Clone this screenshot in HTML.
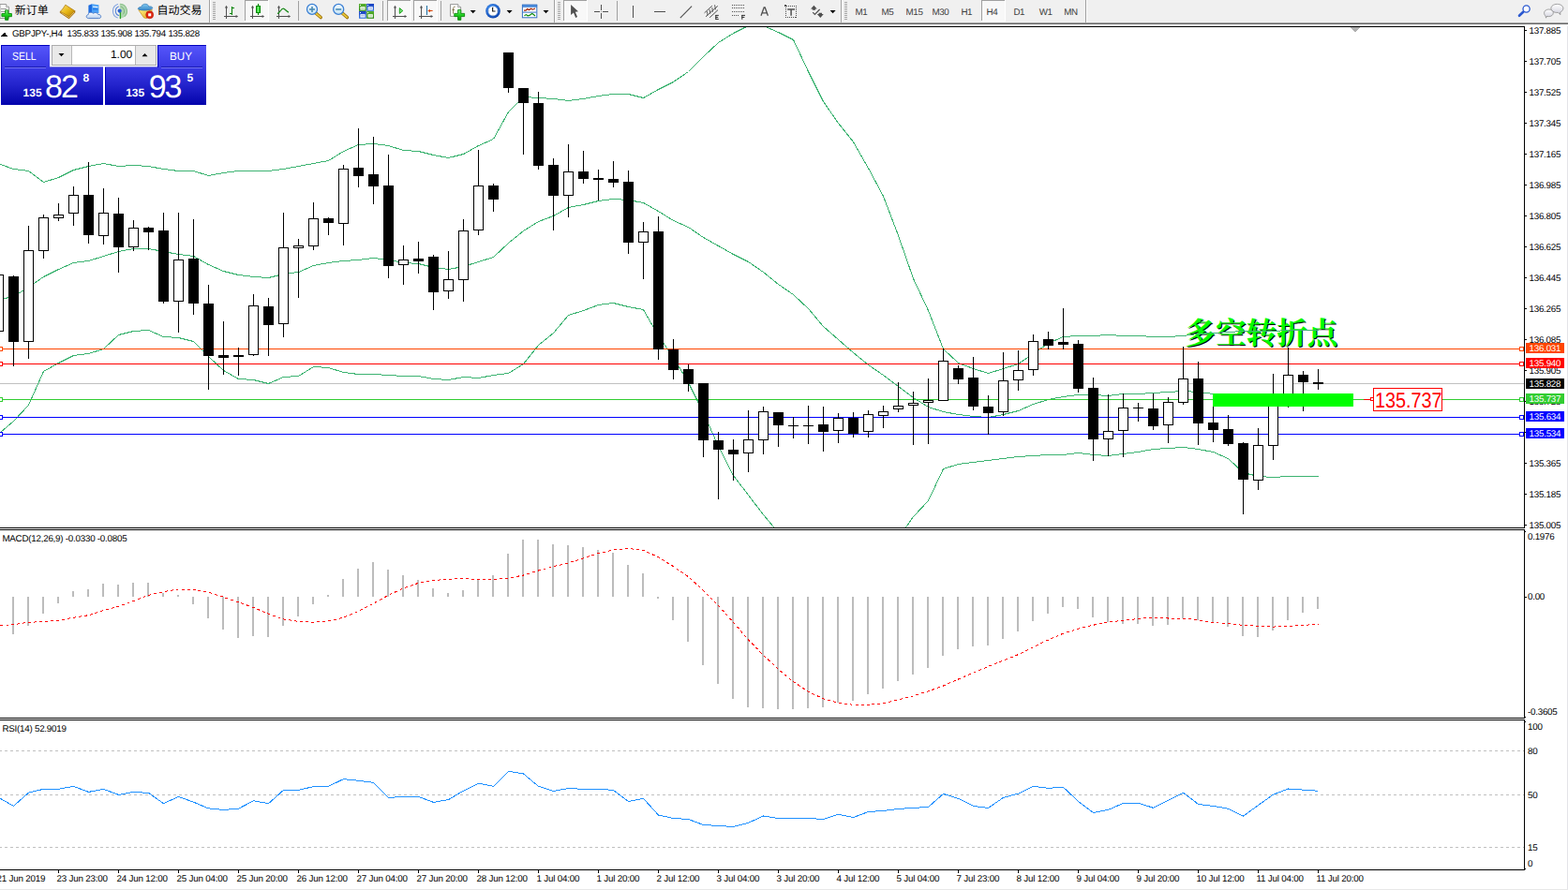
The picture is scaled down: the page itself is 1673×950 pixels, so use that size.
<!DOCTYPE html>
<html><head><meta charset="utf-8"><title>GBPJPY H4</title>
<style>
html,body{margin:0;padding:0;background:#fff}
body{width:1673px;height:950px;position:relative;overflow:hidden;font-family:"Liberation Sans", sans-serif;text-rendering:geometricPrecision}
.t{position:absolute;white-space:nowrap;font-family:"Liberation Sans", sans-serif}
svg{position:absolute;left:0;top:0}
.pb{position:absolute;left:1628px;width:41px;height:11px;color:#fff;font-size:9.8px;line-height:13px;letter-spacing:-0.25px;text-indent:3.6px;white-space:nowrap;overflow:hidden}
#tb{position:absolute;left:0;top:0;width:1673px;height:24px;background:#f0f0f0}
#redge{position:absolute;left:1672px;top:26px;width:1px;height:924px;background:#e4e4e8}
#bedge{position:absolute;left:0;top:949px;width:1673px;height:1px;background:#e8e8e8}
</style></head><body>
<div id="tb"></div><div id="redge"></div><div id="bedge"></div>
<svg width="1673" height="950" viewBox="0 0 1673 950" shape-rendering="crispEdges">
<rect x="0" y="28" width="1627" height="1" fill="#000"/>
<rect x="1626" y="28" width="1" height="536" fill="#000"/>
<rect x="0" y="563" width="1627" height="1" fill="#000"/>
<rect x="0" y="565" width="1627" height="1" fill="#000"/>
<rect x="1626" y="565" width="1" height="202" fill="#000"/>
<rect x="0" y="766" width="1627" height="1" fill="#000"/>
<rect x="0" y="768" width="1627" height="1" fill="#000"/>
<rect x="1626" y="768" width="1" height="161" fill="#000"/>
<rect x="0" y="928" width="1627" height="1" fill="#000"/>
<defs><clipPath id="cm"><rect x="0" y="29" width="1626" height="534"/></clipPath></defs>
<rect x="0" y="409" width="1626" height="1" fill="#c0c0c0"/>
<g shape-rendering="geometricPrecision"><text x="1265.3" y="367.66" font-size="32.62" font-weight="bold" fill="#000" font-family="&quot;Liberation Serif&quot;, &quot;Noto Serif CJK SC&quot;, serif">多空转折点</text><text x="1264.3" y="366.66" font-size="32.62" font-weight="bold" fill="#00ff00" font-family="&quot;Liberation Serif&quot;, &quot;Noto Serif CJK SC&quot;, serif">多空转折点</text></g>
<polyline points="0.5,175.5 14.5,180.5 30.5,182.5 46.5,194.5 62.5,189.5 78.5,181.5 94.5,177.5 110.5,174.5 126.5,177.5 142.5,176.5 158.5,177.5 174.5,180.5 190.5,182.5 206.5,182.5 222.5,187.5 238.5,184.5 254.5,182.5 270.5,182.5 286.5,182.5 302.5,180.5 318.5,177.5 334.5,174.5 350.5,171.5 366.5,161.5 382.5,154.5 398.5,153.5 414.5,155.5 430.5,160.5 446.5,161.5 462.5,165.5 478.5,168.5 494.5,164.5 510.5,155.5 526.5,148.5 542.5,119.5 558.5,103.5 574.5,104.5 590.5,105.5 606.5,107.5 622.5,105.5 638.5,102.5 654.5,100.5 670.5,100.5 686.5,104.5 702.5,95.5 718.5,87.5 734.5,76.5 750.5,60.5 766.5,45.5 782.5,35.5 798.5,27.5 814.5,27.5 830.5,34.5 846.5,42.5 862.5,76.5 878.5,108.5 894.5,131.5 910.5,151.5 926.5,179.5 942.5,209.5 958.5,251.5 974.5,297.5 990.5,331.5 1006.5,372.5 1022.5,387.5 1038.5,393.5 1054.5,398.5 1070.5,393.5 1086.5,388.5 1102.5,377.5 1118.5,366.5 1134.5,359.5 1150.5,358.5 1166.5,358.5 1182.5,357.5 1198.5,358.5 1214.5,358.5 1230.5,359.5 1246.5,359.5 1262.5,358.5 1278.5,356.5 1294.5,355.5 1310.5,354.5 1326.5,353.5 1342.5,353.5 1358.5,353.5 1374.5,352.5 1390.5,352.5 1406.5,352.5" fill="none" stroke="#3cb371" stroke-width="1" clip-path="url(#cm)"/>
<polyline points="0.5,319.5 14.5,316.5 30.5,306.5 46.5,295.5 62.5,287.5 78.5,280.5 94.5,278.5 110.5,273.5 126.5,268.5 142.5,265.5 158.5,265.5 174.5,268.5 190.5,271.5 206.5,273.5 222.5,282.5 238.5,289.5 254.5,293.5 270.5,295.5 286.5,296.5 302.5,292.5 318.5,290.5 334.5,283.5 350.5,280.5 366.5,278.5 382.5,277.5 398.5,275.5 414.5,277.5 430.5,280.5 446.5,281.5 462.5,285.5 478.5,287.5 494.5,284.5 510.5,279.5 526.5,274.5 542.5,259.5 558.5,246.5 574.5,236.5 590.5,230.5 606.5,221.5 622.5,218.5 638.5,214.5 654.5,212.5 670.5,213.5 686.5,216.5 702.5,225.5 718.5,235.5 734.5,242.5 750.5,253.5 766.5,262.5 782.5,271.5 798.5,279.5 814.5,290.5 830.5,303.5 846.5,314.5 862.5,329.5 878.5,348.5 894.5,362.5 910.5,376.5 926.5,389.5 942.5,400.5 958.5,412.5 974.5,424.5 990.5,434.5 1006.5,439.5 1022.5,442.5 1038.5,444.5 1054.5,445.5 1070.5,442.5 1086.5,438.5 1102.5,431.5 1118.5,426.5 1134.5,423.5 1150.5,421.5 1166.5,421.5 1182.5,422.5 1198.5,420.5 1214.5,420.5 1230.5,419.5 1246.5,418.5 1262.5,417.5 1278.5,418.5 1294.5,420.5 1310.5,423.5 1326.5,426.5 1342.5,428.5 1358.5,428.5 1374.5,427.5 1390.5,426.5 1406.5,425.5" fill="none" stroke="#3cb371" stroke-width="1" clip-path="url(#cm)"/>
<polyline points="0.5,461.5 14.5,449.5 30.5,432.5 46.5,396.5 62.5,387.5 78.5,379.5 94.5,377.5 110.5,372.5 126.5,357.5 142.5,353.5 158.5,352.5 174.5,359.5 190.5,360.5 206.5,364.5 222.5,380.5 238.5,395.5 254.5,404.5 270.5,405.5 286.5,409.5 302.5,402.5 318.5,401.5 334.5,391.5 350.5,392.5 366.5,397.5 382.5,399.5 398.5,399.5 414.5,400.5 430.5,401.5 446.5,401.5 462.5,404.5 478.5,405.5 494.5,402.5 510.5,403.5 526.5,400.5 542.5,398.5 558.5,388.5 574.5,368.5 590.5,355.5 606.5,336.5 622.5,331.5 638.5,325.5 654.5,323.5 670.5,327.5 686.5,330.5 702.5,358.5 718.5,381.5 734.5,408.5 750.5,440.5 766.5,476.5 782.5,507.5 798.5,528.5 814.5,549.5 830.5,568.5 846.5,580.5 862.5,580.5 878.5,580.5 894.5,580.5 910.5,580.5 926.5,580.5 942.5,580.5 958.5,574.5 974.5,551.5 990.5,534.5 1006.5,500.5 1022.5,495.5 1038.5,493.5 1054.5,491.5 1070.5,489.5 1086.5,487.5 1102.5,486.5 1118.5,485.5 1134.5,485.5 1150.5,483.5 1166.5,485.5 1182.5,486.5 1198.5,484.5 1214.5,482.5 1230.5,479.5 1246.5,478.5 1262.5,477.5 1278.5,479.5 1294.5,482.5 1310.5,489.5 1326.5,504.5 1342.5,508.5 1358.5,509.5 1374.5,508.5 1390.5,508.5 1406.5,508.5" fill="none" stroke="#3cb371" stroke-width="1" clip-path="url(#cm)"/>
<rect x="0" y="372" width="1626" height="1" fill="#ff4500"/>
<rect x="-1.5" y="370.5" width="4" height="4" fill="#fff" stroke="#ff4500" stroke-width="1"/>
<rect x="1621.5" y="370.5" width="4" height="4" fill="#fff" stroke="#ff4500" stroke-width="1"/>
<rect x="0" y="388" width="1626" height="1" fill="#ff0000"/>
<rect x="-1.5" y="386.5" width="4" height="4" fill="#fff" stroke="#ff0000" stroke-width="1"/>
<rect x="1621.5" y="386.5" width="4" height="4" fill="#fff" stroke="#ff0000" stroke-width="1"/>
<rect x="0" y="426" width="1626" height="1" fill="#32cd32"/>
<rect x="-1.5" y="424.5" width="4" height="4" fill="#fff" stroke="#32cd32" stroke-width="1"/>
<rect x="1621.5" y="424.5" width="4" height="4" fill="#fff" stroke="#32cd32" stroke-width="1"/>
<rect x="0" y="445" width="1626" height="1" fill="#0000ff"/>
<rect x="-1.5" y="443.5" width="4" height="4" fill="#fff" stroke="#0000ff" stroke-width="1"/>
<rect x="1621.5" y="443.5" width="4" height="4" fill="#fff" stroke="#0000ff" stroke-width="1"/>
<rect x="0" y="463" width="1626" height="1" fill="#0000ff"/>
<rect x="-1.5" y="461.5" width="4" height="4" fill="#fff" stroke="#0000ff" stroke-width="1"/>
<rect x="1621.5" y="461.5" width="4" height="4" fill="#fff" stroke="#0000ff" stroke-width="1"/>
<rect x="-2" y="293" width="1" height="61" fill="#000"/>
<rect x="-7" y="293" width="11" height="61" fill="#000"/>
<rect x="-6" y="294" width="9" height="59" fill="#fff"/>
<rect x="14" y="294" width="1" height="97" fill="#000"/>
<rect x="9" y="295" width="11" height="70" fill="#000"/>
<rect x="30" y="241" width="1" height="142" fill="#000"/>
<rect x="25" y="267" width="11" height="98" fill="#000"/>
<rect x="26" y="268" width="9" height="96" fill="#fff"/>
<rect x="46" y="229" width="1" height="47" fill="#000"/>
<rect x="41" y="232" width="11" height="36" fill="#000"/>
<rect x="42" y="233" width="9" height="34" fill="#fff"/>
<rect x="62" y="217" width="1" height="19" fill="#000"/>
<rect x="57" y="229" width="11" height="4" fill="#000"/>
<rect x="58" y="230" width="9" height="2" fill="#fff"/>
<rect x="78" y="199" width="1" height="42" fill="#000"/>
<rect x="73" y="208" width="11" height="20" fill="#000"/>
<rect x="74" y="209" width="9" height="18" fill="#fff"/>
<rect x="94" y="173" width="1" height="87" fill="#000"/>
<rect x="89" y="208" width="11" height="43" fill="#000"/>
<rect x="110" y="201" width="1" height="60" fill="#000"/>
<rect x="105" y="227" width="11" height="25" fill="#000"/>
<rect x="106" y="228" width="9" height="23" fill="#fff"/>
<rect x="126" y="211" width="1" height="80" fill="#000"/>
<rect x="121" y="228" width="11" height="36" fill="#000"/>
<rect x="142" y="235" width="1" height="33" fill="#000"/>
<rect x="137" y="243" width="11" height="21" fill="#000"/>
<rect x="138" y="244" width="9" height="19" fill="#fff"/>
<rect x="158" y="242" width="1" height="25" fill="#000"/>
<rect x="153" y="243" width="11" height="5" fill="#000"/>
<rect x="174" y="227" width="1" height="97" fill="#000"/>
<rect x="169" y="246" width="11" height="76" fill="#000"/>
<rect x="190" y="227" width="1" height="128" fill="#000"/>
<rect x="185" y="277" width="11" height="45" fill="#000"/>
<rect x="186" y="278" width="9" height="43" fill="#fff"/>
<rect x="206" y="234" width="1" height="102" fill="#000"/>
<rect x="201" y="276" width="11" height="48" fill="#000"/>
<rect x="222" y="304" width="1" height="112" fill="#000"/>
<rect x="217" y="324" width="11" height="56" fill="#000"/>
<rect x="238" y="343" width="1" height="57" fill="#000"/>
<rect x="233" y="379" width="11" height="3" fill="#000"/>
<rect x="254" y="371" width="1" height="30" fill="#000"/>
<rect x="249" y="379" width="11" height="2" fill="#000"/>
<rect x="270" y="314" width="1" height="66" fill="#000"/>
<rect x="265" y="326" width="11" height="53" fill="#000"/>
<rect x="266" y="327" width="9" height="51" fill="#fff"/>
<rect x="286" y="318" width="1" height="62" fill="#000"/>
<rect x="281" y="327" width="11" height="20" fill="#000"/>
<rect x="302" y="227" width="1" height="133" fill="#000"/>
<rect x="297" y="264" width="11" height="82" fill="#000"/>
<rect x="298" y="265" width="9" height="80" fill="#fff"/>
<rect x="318" y="255" width="1" height="63" fill="#000"/>
<rect x="313" y="262" width="11" height="3" fill="#000"/>
<rect x="314" y="263" width="9" height="1" fill="#fff"/>
<rect x="334" y="216" width="1" height="51" fill="#000"/>
<rect x="329" y="233" width="11" height="30" fill="#000"/>
<rect x="330" y="234" width="9" height="28" fill="#fff"/>
<rect x="350" y="232" width="1" height="19" fill="#000"/>
<rect x="345" y="233" width="11" height="5" fill="#000"/>
<rect x="366" y="176" width="1" height="86" fill="#000"/>
<rect x="361" y="180" width="11" height="59" fill="#000"/>
<rect x="362" y="181" width="9" height="57" fill="#fff"/>
<rect x="382" y="137" width="1" height="63" fill="#000"/>
<rect x="377" y="179" width="11" height="9" fill="#000"/>
<rect x="398" y="146" width="1" height="72" fill="#000"/>
<rect x="393" y="186" width="11" height="13" fill="#000"/>
<rect x="414" y="165" width="1" height="132" fill="#000"/>
<rect x="409" y="198" width="11" height="86" fill="#000"/>
<rect x="430" y="262" width="1" height="42" fill="#000"/>
<rect x="425" y="277" width="11" height="6" fill="#000"/>
<rect x="426" y="278" width="9" height="4" fill="#fff"/>
<rect x="446" y="258" width="1" height="34" fill="#000"/>
<rect x="441" y="276" width="11" height="3" fill="#000"/>
<rect x="462" y="272" width="1" height="59" fill="#000"/>
<rect x="457" y="274" width="11" height="38" fill="#000"/>
<rect x="478" y="268" width="1" height="51" fill="#000"/>
<rect x="473" y="298" width="11" height="13" fill="#000"/>
<rect x="474" y="299" width="9" height="11" fill="#fff"/>
<rect x="494" y="234" width="1" height="88" fill="#000"/>
<rect x="489" y="246" width="11" height="53" fill="#000"/>
<rect x="490" y="247" width="9" height="51" fill="#fff"/>
<rect x="510" y="160" width="1" height="91" fill="#000"/>
<rect x="505" y="198" width="11" height="48" fill="#000"/>
<rect x="506" y="199" width="9" height="46" fill="#fff"/>
<rect x="526" y="196" width="1" height="30" fill="#000"/>
<rect x="521" y="198" width="11" height="15" fill="#000"/>
<rect x="542" y="56" width="1" height="43" fill="#000"/>
<rect x="537" y="56" width="11" height="38" fill="#000"/>
<rect x="558" y="94" width="1" height="71" fill="#000"/>
<rect x="553" y="94" width="11" height="16" fill="#000"/>
<rect x="574" y="98" width="1" height="83" fill="#000"/>
<rect x="569" y="110" width="11" height="67" fill="#000"/>
<rect x="590" y="169" width="1" height="77" fill="#000"/>
<rect x="585" y="176" width="11" height="33" fill="#000"/>
<rect x="606" y="154" width="1" height="78" fill="#000"/>
<rect x="601" y="183" width="11" height="26" fill="#000"/>
<rect x="602" y="184" width="9" height="24" fill="#fff"/>
<rect x="622" y="161" width="1" height="35" fill="#000"/>
<rect x="617" y="183" width="11" height="8" fill="#000"/>
<rect x="638" y="181" width="1" height="33" fill="#000"/>
<rect x="633" y="190" width="11" height="2" fill="#000"/>
<rect x="654" y="172" width="1" height="28" fill="#000"/>
<rect x="649" y="191" width="11" height="4" fill="#000"/>
<rect x="670" y="182" width="1" height="89" fill="#000"/>
<rect x="665" y="194" width="11" height="65" fill="#000"/>
<rect x="686" y="237" width="1" height="61" fill="#000"/>
<rect x="681" y="247" width="11" height="12" fill="#000"/>
<rect x="682" y="248" width="9" height="10" fill="#fff"/>
<rect x="702" y="231" width="1" height="153" fill="#000"/>
<rect x="697" y="247" width="11" height="126" fill="#000"/>
<rect x="718" y="362" width="1" height="43" fill="#000"/>
<rect x="713" y="373" width="11" height="22" fill="#000"/>
<rect x="734" y="389" width="1" height="29" fill="#000"/>
<rect x="729" y="394" width="11" height="16" fill="#000"/>
<rect x="750" y="409" width="1" height="79" fill="#000"/>
<rect x="745" y="409" width="11" height="61" fill="#000"/>
<rect x="766" y="461" width="1" height="72" fill="#000"/>
<rect x="761" y="470" width="11" height="10" fill="#000"/>
<rect x="782" y="469" width="1" height="44" fill="#000"/>
<rect x="777" y="480" width="11" height="5" fill="#000"/>
<rect x="798" y="438" width="1" height="66" fill="#000"/>
<rect x="793" y="469" width="11" height="15" fill="#000"/>
<rect x="794" y="470" width="9" height="13" fill="#fff"/>
<rect x="814" y="434" width="1" height="51" fill="#000"/>
<rect x="809" y="439" width="11" height="31" fill="#000"/>
<rect x="810" y="440" width="9" height="29" fill="#fff"/>
<rect x="830" y="440" width="1" height="37" fill="#000"/>
<rect x="825" y="440" width="11" height="14" fill="#000"/>
<rect x="846" y="445" width="1" height="23" fill="#000"/>
<rect x="841" y="454" width="11" height="1" fill="#000"/>
<rect x="862" y="433" width="1" height="41" fill="#000"/>
<rect x="857" y="454" width="11" height="1" fill="#000"/>
<rect x="878" y="434" width="1" height="48" fill="#000"/>
<rect x="873" y="453" width="11" height="8" fill="#000"/>
<rect x="894" y="441" width="1" height="32" fill="#000"/>
<rect x="889" y="446" width="11" height="14" fill="#000"/>
<rect x="890" y="447" width="9" height="12" fill="#fff"/>
<rect x="910" y="440" width="1" height="27" fill="#000"/>
<rect x="905" y="446" width="11" height="17" fill="#000"/>
<rect x="926" y="438" width="1" height="29" fill="#000"/>
<rect x="921" y="442" width="11" height="19" fill="#000"/>
<rect x="922" y="443" width="9" height="17" fill="#fff"/>
<rect x="942" y="433" width="1" height="24" fill="#000"/>
<rect x="937" y="439" width="11" height="5" fill="#000"/>
<rect x="938" y="440" width="9" height="3" fill="#fff"/>
<rect x="958" y="408" width="1" height="32" fill="#000"/>
<rect x="953" y="433" width="11" height="4" fill="#000"/>
<rect x="954" y="434" width="9" height="2" fill="#fff"/>
<rect x="974" y="418" width="1" height="57" fill="#000"/>
<rect x="969" y="430" width="11" height="3" fill="#000"/>
<rect x="970" y="431" width="9" height="1" fill="#fff"/>
<rect x="990" y="404" width="1" height="70" fill="#000"/>
<rect x="985" y="427" width="11" height="3" fill="#000"/>
<rect x="986" y="428" width="9" height="1" fill="#fff"/>
<rect x="1006" y="372" width="1" height="56" fill="#000"/>
<rect x="1001" y="385" width="11" height="43" fill="#000"/>
<rect x="1002" y="386" width="9" height="41" fill="#fff"/>
<rect x="1022" y="390" width="1" height="20" fill="#000"/>
<rect x="1017" y="393" width="11" height="12" fill="#000"/>
<rect x="1038" y="381" width="1" height="57" fill="#000"/>
<rect x="1033" y="403" width="11" height="31" fill="#000"/>
<rect x="1054" y="422" width="1" height="42" fill="#000"/>
<rect x="1049" y="434" width="11" height="7" fill="#000"/>
<rect x="1070" y="376" width="1" height="68" fill="#000"/>
<rect x="1065" y="406" width="11" height="34" fill="#000"/>
<rect x="1066" y="407" width="9" height="32" fill="#fff"/>
<rect x="1086" y="374" width="1" height="43" fill="#000"/>
<rect x="1081" y="395" width="11" height="11" fill="#000"/>
<rect x="1082" y="396" width="9" height="9" fill="#fff"/>
<rect x="1102" y="357" width="1" height="44" fill="#000"/>
<rect x="1097" y="364" width="11" height="31" fill="#000"/>
<rect x="1098" y="365" width="9" height="29" fill="#fff"/>
<rect x="1118" y="354" width="1" height="19" fill="#000"/>
<rect x="1113" y="362" width="11" height="7" fill="#000"/>
<rect x="1134" y="329" width="1" height="44" fill="#000"/>
<rect x="1129" y="365" width="11" height="3" fill="#000"/>
<rect x="1150" y="363" width="1" height="56" fill="#000"/>
<rect x="1145" y="367" width="11" height="48" fill="#000"/>
<rect x="1166" y="403" width="1" height="89" fill="#000"/>
<rect x="1161" y="414" width="11" height="55" fill="#000"/>
<rect x="1182" y="421" width="1" height="66" fill="#000"/>
<rect x="1177" y="460" width="11" height="9" fill="#000"/>
<rect x="1178" y="461" width="9" height="7" fill="#fff"/>
<rect x="1198" y="420" width="1" height="68" fill="#000"/>
<rect x="1193" y="435" width="11" height="25" fill="#000"/>
<rect x="1194" y="436" width="9" height="23" fill="#fff"/>
<rect x="1214" y="430" width="1" height="20" fill="#000"/>
<rect x="1209" y="435" width="11" height="1" fill="#000"/>
<rect x="1230" y="420" width="1" height="39" fill="#000"/>
<rect x="1225" y="436" width="11" height="19" fill="#000"/>
<rect x="1246" y="424" width="1" height="49" fill="#000"/>
<rect x="1241" y="429" width="11" height="25" fill="#000"/>
<rect x="1242" y="430" width="9" height="23" fill="#fff"/>
<rect x="1262" y="370" width="1" height="62" fill="#000"/>
<rect x="1257" y="404" width="11" height="26" fill="#000"/>
<rect x="1258" y="405" width="9" height="24" fill="#fff"/>
<rect x="1278" y="386" width="1" height="89" fill="#000"/>
<rect x="1273" y="404" width="11" height="48" fill="#000"/>
<rect x="1294" y="434" width="1" height="38" fill="#000"/>
<rect x="1289" y="451" width="11" height="8" fill="#000"/>
<rect x="1310" y="443" width="1" height="33" fill="#000"/>
<rect x="1305" y="458" width="11" height="16" fill="#000"/>
<rect x="1326" y="472" width="1" height="77" fill="#000"/>
<rect x="1321" y="473" width="11" height="39" fill="#000"/>
<rect x="1342" y="457" width="1" height="66" fill="#000"/>
<rect x="1337" y="475" width="11" height="38" fill="#000"/>
<rect x="1338" y="476" width="9" height="36" fill="#fff"/>
<rect x="1358" y="399" width="1" height="92" fill="#000"/>
<rect x="1353" y="425" width="11" height="51" fill="#000"/>
<rect x="1354" y="426" width="9" height="49" fill="#fff"/>
<rect x="1374" y="371" width="1" height="64" fill="#000"/>
<rect x="1369" y="400" width="11" height="28" fill="#000"/>
<rect x="1370" y="401" width="9" height="26" fill="#fff"/>
<rect x="1390" y="396" width="1" height="43" fill="#000"/>
<rect x="1385" y="400" width="11" height="8" fill="#000"/>
<rect x="1406" y="394" width="1" height="22" fill="#000"/>
<rect x="1401" y="408" width="11" height="2" fill="#000"/>
<rect x="1294" y="420" width="150" height="14" fill="#00ff00"/>
<rect x="1455" y="426" width="8" height="1" fill="#ff0000"/>
<rect x="1462.5" y="424.5" width="3" height="3" fill="#fff" stroke="#ff0000" stroke-width="1"/>
<rect x="1465.5" y="414.5" width="73" height="24" fill="#fff" stroke="#ff0000" stroke-width="1"/>
<polygon points="1440,29 1451,29 1445.5,34.5" fill="#b0b0b0"/>
<polygon points="1,39 8.5,39 4.75,34.5" fill="#000"/>
<rect x="13" y="637" width="2" height="40" fill="#bcbcbc"/>
<rect x="29" y="637" width="2" height="31" fill="#bcbcbc"/>
<rect x="45" y="637" width="2" height="18" fill="#bcbcbc"/>
<rect x="61" y="637" width="2" height="7" fill="#bcbcbc"/>
<rect x="77" y="631" width="2" height="6" fill="#bcbcbc"/>
<rect x="93" y="629" width="2" height="8" fill="#bcbcbc"/>
<rect x="109" y="623" width="2" height="14" fill="#bcbcbc"/>
<rect x="125" y="624" width="2" height="13" fill="#bcbcbc"/>
<rect x="141" y="622" width="2" height="15" fill="#bcbcbc"/>
<rect x="157" y="622" width="2" height="15" fill="#bcbcbc"/>
<rect x="173" y="633" width="2" height="4" fill="#bcbcbc"/>
<rect x="189" y="635" width="2" height="2" fill="#bcbcbc"/>
<rect x="205" y="637" width="2" height="8" fill="#bcbcbc"/>
<rect x="221" y="637" width="2" height="23" fill="#bcbcbc"/>
<rect x="237" y="637" width="2" height="35" fill="#bcbcbc"/>
<rect x="253" y="637" width="2" height="44" fill="#bcbcbc"/>
<rect x="269" y="637" width="2" height="42" fill="#bcbcbc"/>
<rect x="285" y="637" width="2" height="43" fill="#bcbcbc"/>
<rect x="301" y="637" width="2" height="31" fill="#bcbcbc"/>
<rect x="317" y="637" width="2" height="21" fill="#bcbcbc"/>
<rect x="333" y="637" width="2" height="8" fill="#bcbcbc"/>
<rect x="349" y="635" width="2" height="2" fill="#bcbcbc"/>
<rect x="365" y="618" width="2" height="19" fill="#bcbcbc"/>
<rect x="381" y="607" width="2" height="30" fill="#bcbcbc"/>
<rect x="397" y="600" width="2" height="37" fill="#bcbcbc"/>
<rect x="413" y="608" width="2" height="29" fill="#bcbcbc"/>
<rect x="429" y="614" width="2" height="23" fill="#bcbcbc"/>
<rect x="445" y="619" width="2" height="18" fill="#bcbcbc"/>
<rect x="461" y="628" width="2" height="9" fill="#bcbcbc"/>
<rect x="477" y="633" width="2" height="4" fill="#bcbcbc"/>
<rect x="493" y="630" width="2" height="7" fill="#bcbcbc"/>
<rect x="509" y="619" width="2" height="18" fill="#bcbcbc"/>
<rect x="525" y="614" width="2" height="23" fill="#bcbcbc"/>
<rect x="541" y="591" width="2" height="46" fill="#bcbcbc"/>
<rect x="557" y="576" width="2" height="61" fill="#bcbcbc"/>
<rect x="573" y="576" width="2" height="61" fill="#bcbcbc"/>
<rect x="589" y="581" width="2" height="56" fill="#bcbcbc"/>
<rect x="605" y="582" width="2" height="55" fill="#bcbcbc"/>
<rect x="621" y="584" width="2" height="53" fill="#bcbcbc"/>
<rect x="637" y="587" width="2" height="50" fill="#bcbcbc"/>
<rect x="653" y="590" width="2" height="47" fill="#bcbcbc"/>
<rect x="669" y="603" width="2" height="34" fill="#bcbcbc"/>
<rect x="685" y="612" width="2" height="25" fill="#bcbcbc"/>
<rect x="701" y="637" width="2" height="2" fill="#bcbcbc"/>
<rect x="717" y="637" width="2" height="25" fill="#bcbcbc"/>
<rect x="733" y="637" width="2" height="48" fill="#bcbcbc"/>
<rect x="749" y="637" width="2" height="73" fill="#bcbcbc"/>
<rect x="765" y="637" width="2" height="93" fill="#bcbcbc"/>
<rect x="781" y="637" width="2" height="109" fill="#bcbcbc"/>
<rect x="797" y="637" width="2" height="118" fill="#bcbcbc"/>
<rect x="813" y="637" width="2" height="119" fill="#bcbcbc"/>
<rect x="829" y="637" width="2" height="120" fill="#bcbcbc"/>
<rect x="845" y="637" width="2" height="120" fill="#bcbcbc"/>
<rect x="861" y="637" width="2" height="119" fill="#bcbcbc"/>
<rect x="877" y="637" width="2" height="118" fill="#bcbcbc"/>
<rect x="893" y="637" width="2" height="113" fill="#bcbcbc"/>
<rect x="909" y="637" width="2" height="111" fill="#bcbcbc"/>
<rect x="925" y="637" width="2" height="104" fill="#bcbcbc"/>
<rect x="941" y="637" width="2" height="98" fill="#bcbcbc"/>
<rect x="957" y="637" width="2" height="90" fill="#bcbcbc"/>
<rect x="973" y="637" width="2" height="83" fill="#bcbcbc"/>
<rect x="989" y="637" width="2" height="76" fill="#bcbcbc"/>
<rect x="1005" y="637" width="2" height="63" fill="#bcbcbc"/>
<rect x="1021" y="637" width="2" height="56" fill="#bcbcbc"/>
<rect x="1037" y="637" width="2" height="53" fill="#bcbcbc"/>
<rect x="1053" y="637" width="2" height="52" fill="#bcbcbc"/>
<rect x="1069" y="637" width="2" height="45" fill="#bcbcbc"/>
<rect x="1085" y="637" width="2" height="37" fill="#bcbcbc"/>
<rect x="1101" y="637" width="2" height="26" fill="#bcbcbc"/>
<rect x="1117" y="637" width="2" height="18" fill="#bcbcbc"/>
<rect x="1133" y="637" width="2" height="11" fill="#bcbcbc"/>
<rect x="1149" y="637" width="2" height="13" fill="#bcbcbc"/>
<rect x="1165" y="637" width="2" height="22" fill="#bcbcbc"/>
<rect x="1181" y="637" width="2" height="27" fill="#bcbcbc"/>
<rect x="1197" y="637" width="2" height="29" fill="#bcbcbc"/>
<rect x="1213" y="637" width="2" height="29" fill="#bcbcbc"/>
<rect x="1229" y="637" width="2" height="31" fill="#bcbcbc"/>
<rect x="1245" y="637" width="2" height="30" fill="#bcbcbc"/>
<rect x="1261" y="637" width="2" height="23" fill="#bcbcbc"/>
<rect x="1277" y="637" width="2" height="25" fill="#bcbcbc"/>
<rect x="1293" y="637" width="2" height="28" fill="#bcbcbc"/>
<rect x="1309" y="637" width="2" height="32" fill="#bcbcbc"/>
<rect x="1325" y="637" width="2" height="42" fill="#bcbcbc"/>
<rect x="1341" y="637" width="2" height="43" fill="#bcbcbc"/>
<rect x="1357" y="637" width="2" height="36" fill="#bcbcbc"/>
<rect x="1373" y="637" width="2" height="25" fill="#bcbcbc"/>
<rect x="1389" y="637" width="2" height="17" fill="#bcbcbc"/>
<rect x="1405" y="637" width="2" height="13" fill="#bcbcbc"/>
<polyline points="0.5,667.5 14.5,666.7 30.5,664.2 46.5,663.7 62.5,662.2 78.5,659.2 94.5,656.7 110.5,651.6 126.5,647.1 142.5,641.6 158.5,635.3 174.5,631.6 190.5,629.0 206.5,629.0 222.5,632.3 238.5,637.3 254.5,642.9 270.5,648.4 286.5,655.4 302.5,660.9 318.5,663.4 334.5,664.2 350.5,662.9 366.5,659.2 382.5,652.4 398.5,644.1 414.5,635.3 430.5,627.8 446.5,622.3 462.5,619.5 478.5,618.2 494.5,617.5 510.5,618.5 526.5,618.5 542.5,617.2 558.5,614.0 574.5,609.0 590.5,604.7 606.5,600.9 622.5,595.9 638.5,590.6 654.5,587.1 670.5,585.4 686.5,587.6 702.5,594.6 718.5,604.7 734.5,615.7 750.5,630.3 766.5,646.6 782.5,664.2 798.5,683.0 814.5,699.3 830.5,714.4 846.5,727.7 862.5,738.3 878.5,745.8 894.5,750.3 910.5,752.3 926.5,752.3 942.5,750.8 958.5,747.0 974.5,742.8 990.5,737.8 1006.5,732.0 1022.5,725.0 1038.5,718.2 1054.5,711.4 1070.5,705.1 1086.5,698.6 1102.5,690.6 1118.5,683.0 1134.5,676.2 1150.5,671.2 1166.5,667.2 1182.5,664.2 1198.5,662.2 1214.5,660.5 1230.5,659.0 1246.5,660.0 1262.5,660.0 1278.5,661.8 1294.5,664.6 1310.5,665.7 1326.5,667.4 1342.5,668.3 1358.5,669.1 1374.5,668.3 1390.5,667.4 1406.5,666.3" fill="none" stroke="#ff0000" stroke-width="1" stroke-dasharray="3,3" shape-rendering="crispEdges"/>
<line x1="0" y1="801.5" x2="1626" y2="801.5" stroke="#c0c0c0" stroke-width="1" stroke-dasharray="3,3" stroke-dashoffset="1"/>
<line x1="0" y1="848.5" x2="1626" y2="848.5" stroke="#c0c0c0" stroke-width="1" stroke-dasharray="3,3" stroke-dashoffset="1"/>
<line x1="0" y1="904.5" x2="1626" y2="904.5" stroke="#c0c0c0" stroke-width="1" stroke-dasharray="3,3" stroke-dashoffset="1"/>
<polyline points="0.5,852.4 14.5,860.4 30.5,846.1 46.5,842.3 62.5,842.3 78.5,839.3 94.5,845.4 110.5,842.3 126.5,848.4 142.5,845.4 158.5,846.4 174.5,857.7 190.5,850.4 206.5,856.2 222.5,862.9 238.5,864.4 254.5,863.2 270.5,854.7 286.5,857.7 302.5,843.4 318.5,843.4 334.5,839.6 350.5,839.3 366.5,831.6 382.5,833.3 398.5,835.3 414.5,851.4 430.5,850.4 446.5,850.4 462.5,856.4 478.5,853.6 494.5,844.1 510.5,836.1 526.5,839.3 542.5,823.3 558.5,826.0 574.5,839.3 590.5,844.4 606.5,841.6 622.5,842.3 638.5,842.3 654.5,843.4 670.5,855.4 686.5,852.4 702.5,870.0 718.5,873.5 734.5,874.5 750.5,880.5 766.5,881.5 782.5,882.5 798.5,878.3 814.5,871.0 830.5,873.5 846.5,873.5 862.5,873.5 878.5,874.5 894.5,869.2 910.5,872.5 926.5,866.5 942.5,865.4 958.5,863.4 974.5,862.4 990.5,861.4 1006.5,847.4 1022.5,852.4 1038.5,860.4 1054.5,862.4 1070.5,851.4 1086.5,847.1 1102.5,839.3 1118.5,841.3 1134.5,840.3 1150.5,855.4 1166.5,867.5 1182.5,864.4 1198.5,857.4 1214.5,857.2 1230.5,862.3 1246.5,854.1 1262.5,846.2 1278.5,858.4 1294.5,860.4 1310.5,863.2 1326.5,871.1 1342.5,859.5 1358.5,848.2 1374.5,842.0 1390.5,843.1 1406.5,844.3" fill="none" stroke="#1e90ff" stroke-width="1"/>
<rect x="1627" y="32" width="2" height="1" fill="#000"/>
<rect x="1627" y="65" width="2" height="1" fill="#000"/>
<rect x="1627" y="98" width="2" height="1" fill="#000"/>
<rect x="1627" y="131" width="2" height="1" fill="#000"/>
<rect x="1627" y="164" width="2" height="1" fill="#000"/>
<rect x="1627" y="197" width="2" height="1" fill="#000"/>
<rect x="1627" y="230" width="2" height="1" fill="#000"/>
<rect x="1627" y="263" width="2" height="1" fill="#000"/>
<rect x="1627" y="296" width="2" height="1" fill="#000"/>
<rect x="1627" y="329" width="2" height="1" fill="#000"/>
<rect x="1627" y="362" width="2" height="1" fill="#000"/>
<rect x="1627" y="395" width="2" height="1" fill="#000"/>
<rect x="1627" y="428" width="2" height="1" fill="#000"/>
<rect x="1627" y="461" width="2" height="1" fill="#000"/>
<rect x="1627" y="494" width="2" height="1" fill="#000"/>
<rect x="1627" y="527" width="2" height="1" fill="#000"/>
<rect x="1627" y="560" width="2" height="1" fill="#000"/>
<rect x="1627" y="567" width="1" height="1" fill="#000"/>
<rect x="1627" y="637" width="2" height="1" fill="#000"/>
<rect x="1627" y="765" width="1" height="1" fill="#000"/>
<rect x="1627" y="770" width="1" height="1" fill="#000"/>
<rect x="1627" y="927" width="1" height="1" fill="#000"/>
<rect x="62" y="929" width="1" height="3" fill="#000"/>
<rect x="126" y="929" width="1" height="3" fill="#000"/>
<rect x="190" y="929" width="1" height="3" fill="#000"/>
<rect x="254" y="929" width="1" height="3" fill="#000"/>
<rect x="318" y="929" width="1" height="3" fill="#000"/>
<rect x="382" y="929" width="1" height="3" fill="#000"/>
<rect x="446" y="929" width="1" height="3" fill="#000"/>
<rect x="510" y="929" width="1" height="3" fill="#000"/>
<rect x="574" y="929" width="1" height="3" fill="#000"/>
<rect x="638" y="929" width="1" height="3" fill="#000"/>
<rect x="702" y="929" width="1" height="3" fill="#000"/>
<rect x="766" y="929" width="1" height="3" fill="#000"/>
<rect x="830" y="929" width="1" height="3" fill="#000"/>
<rect x="894" y="929" width="1" height="3" fill="#000"/>
<rect x="958" y="929" width="1" height="3" fill="#000"/>
<rect x="1022" y="929" width="1" height="3" fill="#000"/>
<rect x="1086" y="929" width="1" height="3" fill="#000"/>
<rect x="1150" y="929" width="1" height="3" fill="#000"/>
<rect x="1214" y="929" width="1" height="3" fill="#000"/>
<rect x="1278" y="929" width="1" height="3" fill="#000"/>
<rect x="1342" y="929" width="1" height="3" fill="#000"/>
<rect x="1406" y="929" width="1" height="3" fill="#000"/>
</svg>
<svg width="1673" height="950" viewBox="0 0 1673 950">
<text x="15.81" y="15.03" font-size="12" fill="#000" font-family="&quot;Liberation Sans&quot;, &quot;Noto Sans CJK SC&quot;, sans-serif">新订单</text>
<text x="167.44" y="15.19" font-size="12" fill="#000" font-family="&quot;Liberation Sans&quot;, &quot;Noto Sans CJK SC&quot;, sans-serif">自动交易</text>
<defs>
<linearGradient id="gp" x1="0" y1="0" x2="0" y2="1"><stop offset="0" stop-color="#7cf07c"/><stop offset="0.5" stop-color="#1fd01f"/><stop offset="1" stop-color="#0a9a0a"/></linearGradient>
<linearGradient id="gold" x1="0" y1="0" x2="1" y2="1"><stop offset="0" stop-color="#f8e070"/><stop offset="0.5" stop-color="#e8b818"/><stop offset="1" stop-color="#b07800"/></linearGradient>
<linearGradient id="blu" x1="0" y1="0" x2="0" y2="1"><stop offset="0" stop-color="#58b0f8"/><stop offset="1" stop-color="#1868d0"/></linearGradient>
<linearGradient id="cld" x1="0" y1="0" x2="0" y2="1"><stop offset="0" stop-color="#ffffff"/><stop offset="1" stop-color="#b8d0ee"/></linearGradient>
<radialGradient id="clk" cx="0.4" cy="0.35" r="0.7"><stop offset="0" stop-color="#4aa0ff"/><stop offset="1" stop-color="#0a3ea8"/></radialGradient>
<linearGradient id="grn" x1="0" y1="0" x2="0" y2="1"><stop offset="0" stop-color="#58b030"/><stop offset="1" stop-color="#2a8a10"/></linearGradient>
<linearGradient id="blq" x1="0" y1="0" x2="0" y2="1"><stop offset="0" stop-color="#1840c0"/><stop offset="1" stop-color="#3a78e0"/></linearGradient>
<linearGradient id="lens" x1="0" y1="0" x2="0" y2="1"><stop offset="0" stop-color="#f4fbff"/><stop offset="1" stop-color="#c4e2f4"/></linearGradient>
<linearGradient id="cndl" x1="0" y1="0" x2="1" y2="0"><stop offset="0" stop-color="#10c010"/><stop offset="0.5" stop-color="#70f070"/><stop offset="1" stop-color="#10c010"/></linearGradient>
<linearGradient id="hat" x1="0" y1="0" x2="0" y2="1"><stop offset="0" stop-color="#80c8f0"/><stop offset="1" stop-color="#3888c8"/></linearGradient>
<linearGradient id="fun" x1="0" y1="0" x2="1" y2="1"><stop offset="0" stop-color="#fff080"/><stop offset="1" stop-color="#e0a820"/></linearGradient>
<linearGradient id="bub" x1="0" y1="0" x2="0" y2="1"><stop offset="0" stop-color="#ffffff"/><stop offset="1" stop-color="#d0d0dc"/></linearGradient>
</defs>
<g shape-rendering="crispEdges">
<rect x="0" y="24" width="1673" height="1" fill="#a0a0a0"/><rect x="0" y="25" width="1673" height="1" fill="#696969"/><rect x="0" y="26" width="1673" height="2" fill="#fff"/>
<rect x="261" y="0" width="25" height="22" fill="#f8f8f8"/>
<rect x="261" y="0" width="25" height="1" fill="#a0a0a0"/><rect x="261" y="0" width="1" height="22" fill="#a0a0a0"/>
<rect x="286" y="0" width="1" height="23" fill="#fff"/><rect x="261" y="22" width="25" height="1" fill="#fff"/>
<rect x="413" y="0" width="25" height="22" fill="#f8f8f8"/>
<rect x="413" y="0" width="25" height="1" fill="#a0a0a0"/><rect x="413" y="0" width="1" height="22" fill="#a0a0a0"/>
<rect x="438" y="0" width="1" height="23" fill="#fff"/><rect x="413" y="22" width="25" height="1" fill="#fff"/>
<rect x="441" y="0" width="25" height="22" fill="#f8f8f8"/>
<rect x="441" y="0" width="25" height="1" fill="#a0a0a0"/><rect x="441" y="0" width="1" height="22" fill="#a0a0a0"/>
<rect x="466" y="0" width="1" height="23" fill="#fff"/><rect x="441" y="22" width="25" height="1" fill="#fff"/>
<rect x="601" y="0" width="25" height="22" fill="#f8f8f8"/>
<rect x="601" y="0" width="25" height="1" fill="#a0a0a0"/><rect x="601" y="0" width="1" height="22" fill="#a0a0a0"/>
<rect x="626" y="0" width="1" height="23" fill="#fff"/><rect x="601" y="22" width="25" height="1" fill="#fff"/>
<rect x="1047" y="0" width="25" height="22" fill="#f8f8f8"/>
<rect x="1047" y="0" width="25" height="1" fill="#a0a0a0"/><rect x="1047" y="0" width="1" height="22" fill="#a0a0a0"/>
<rect x="1072" y="0" width="1" height="23" fill="#fff"/><rect x="1047" y="22" width="25" height="1" fill="#fff"/>
<rect x="318" y="1" width="1" height="21" fill="#a0a0a0"/>
<rect x="408" y="1" width="1" height="21" fill="#a0a0a0"/>
<rect x="470" y="1" width="1" height="21" fill="#a0a0a0"/>
<rect x="658" y="1" width="1" height="21" fill="#a0a0a0"/>
<rect x="223" y="0" width="1" height="24" fill="#a0a0a0"/><rect x="224" y="0" width="1" height="24" fill="#fff"/>
<rect x="591" y="0" width="1" height="24" fill="#a0a0a0"/><rect x="592" y="0" width="1" height="24" fill="#fff"/>
<rect x="897" y="0" width="1" height="24" fill="#a0a0a0"/><rect x="898" y="0" width="1" height="24" fill="#fff"/>
<rect x="1158" y="0" width="1" height="24" fill="#a0a0a0"/><rect x="1159" y="0" width="1" height="24" fill="#fff"/>
<rect x="227" y="2" width="3" height="1" fill="#a6a6a6"/>
<rect x="227" y="4" width="3" height="1" fill="#a6a6a6"/>
<rect x="227" y="6" width="3" height="1" fill="#a6a6a6"/>
<rect x="227" y="8" width="3" height="1" fill="#a6a6a6"/>
<rect x="227" y="10" width="3" height="1" fill="#a6a6a6"/>
<rect x="227" y="12" width="3" height="1" fill="#a6a6a6"/>
<rect x="227" y="14" width="3" height="1" fill="#a6a6a6"/>
<rect x="227" y="16" width="3" height="1" fill="#a6a6a6"/>
<rect x="227" y="18" width="3" height="1" fill="#a6a6a6"/>
<rect x="227" y="20" width="3" height="1" fill="#a6a6a6"/>
<rect x="595" y="2" width="3" height="1" fill="#a6a6a6"/>
<rect x="595" y="4" width="3" height="1" fill="#a6a6a6"/>
<rect x="595" y="6" width="3" height="1" fill="#a6a6a6"/>
<rect x="595" y="8" width="3" height="1" fill="#a6a6a6"/>
<rect x="595" y="10" width="3" height="1" fill="#a6a6a6"/>
<rect x="595" y="12" width="3" height="1" fill="#a6a6a6"/>
<rect x="595" y="14" width="3" height="1" fill="#a6a6a6"/>
<rect x="595" y="16" width="3" height="1" fill="#a6a6a6"/>
<rect x="595" y="18" width="3" height="1" fill="#a6a6a6"/>
<rect x="595" y="20" width="3" height="1" fill="#a6a6a6"/>
<rect x="901" y="2" width="3" height="1" fill="#a6a6a6"/>
<rect x="901" y="4" width="3" height="1" fill="#a6a6a6"/>
<rect x="901" y="6" width="3" height="1" fill="#a6a6a6"/>
<rect x="901" y="8" width="3" height="1" fill="#a6a6a6"/>
<rect x="901" y="10" width="3" height="1" fill="#a6a6a6"/>
<rect x="901" y="12" width="3" height="1" fill="#a6a6a6"/>
<rect x="901" y="14" width="3" height="1" fill="#a6a6a6"/>
<rect x="901" y="16" width="3" height="1" fill="#a6a6a6"/>
<rect x="901" y="18" width="3" height="1" fill="#a6a6a6"/>
<rect x="901" y="20" width="3" height="1" fill="#a6a6a6"/>
</g>
<path d="M0,4.5 H6.5 L9.5,7.5 V19.5 H0 Z" fill="#fff" stroke="#9a9a9a" stroke-width="1"/><path d="M6.5,4.5 V7.5 H9.5" fill="#e8e8e8" stroke="#9a9a9a" stroke-width="0.8"/>
<g stroke="#9c9c9c" stroke-width="1"><line x1="1" y1="9.5" x2="7" y2="9.5"/><line x1="1" y1="12.5" x2="7" y2="12.5"/></g>
<path d="M5.6,10.9 H8.8 V14.5 H12.4 V17.7 H8.8 V21.3 H5.6 V17.7 H1.9 V14.5 H5.6 Z" fill="url(#gp)" stroke="#0a8a0a" stroke-width="0.9"/>
<path d="M64.2,13.6 L73.6,19.9 L80,13.2 L79.8,11.6 L73.8,17.6 L64.4,12.2 Z" fill="#b87c08" stroke="#9a6400" stroke-width="0.6"/><path d="M69.8,5.2 L79.8,11.6 L73.8,17.8 L64.4,12.4 Q67.6,9 69.8,5.2 Z" fill="url(#gold)" stroke="#a87000" stroke-width="0.7"/><path d="M65.6,13.6 L73.7,18.6 L79,13" fill="none" stroke="#f0d488" stroke-width="0.7"/>
<path d="M94.4,5.8 L98,4.2 L98,14 L94.4,14 Z" fill="#1c6ce0"/><path d="M98,4.2 L105.4,5.2 L105.4,14 L98,14 Z" fill="#4aa0f6"/><path d="M99,6.4 L104.4,6.9 V8.2 L99,7.8 Z" fill="#e4f2ff"/><path d="M99,9.2 L104.4,9.5 V10.5 L99,10.3 Z" fill="#1c6ce0"/>
<path d="M94.4,19.6 C91.6,19.6 91.4,16 94.2,15.6 C94.2,13 97.8,12.4 99.4,14.4 C101,12.8 104.2,13.4 104.6,15.4 C108.2,15 108.8,19.6 105.6,19.6 Z" fill="url(#cld)" stroke="#4a78c4" stroke-width="0.9"/>
<g fill="none" stroke-linecap="round"><path d="M127.8,11.8 L127.8,4 A7.8,7.8 0 0 1 128.6,19.6 Z" fill="#58b458" opacity="0.4" stroke="none"/><path d="M125.4,18.9 A7.6,7.6 0 0 1 125.6,4.6" stroke="#86a6e0" stroke-width="1.1"/><path d="M126.6,16.6 A5.2,5.2 0 0 1 126.4,7" stroke="#5a86d8" stroke-width="1.1"/><path d="M128.4,4.3 A7.6,7.6 0 0 1 133,17.4" stroke="#8cc08c" stroke-width="1.1"/><path d="M129,7 A5,5 0 0 1 131.6,15" stroke="#78b478" stroke-width="1"/><line x1="128.4" y1="12" x2="128.4" y2="19.6" stroke="#28a028" stroke-width="1.4"/></g><circle cx="127.6" cy="11.6" r="2.1" fill="#2e62d0"/>
<path d="M147.8,10.6 L162.4,10.6 L156.6,19.6 L153.6,19 Z" fill="url(#fun)" stroke="#c89018" stroke-width="0.7"/>
<path d="M147.2,9.4 C147.6,7.6 150,7.4 151,7.2 C151.4,3.4 158,3.2 158.8,7 C160.6,6.6 163,7.2 162.8,8.8 C161,11.4 149.6,11.8 147.2,9.4 Z" fill="url(#hat)" stroke="#3478b4" stroke-width="0.7"/>
<circle cx="159.7" cy="15.8" r="4" fill="#e02810" stroke="#b01808" stroke-width="0.6"/><rect x="158.2" y="14.3" width="3" height="3" fill="#fff"/>
<g fill="#505050" shape-rendering="crispEdges"><rect x="241" y="7" width="1" height="13"/><rect x="239" y="17" width="14" height="1"/></g>
<polygon points="239.9,8.4 241.5,5.8 243.1,8.4" fill="#505050"/><polygon points="251.6,15.9 254.2,17.5 251.6,19.1" fill="#505050"/>
<g fill="#008000" shape-rendering="crispEdges"><rect x="247" y="7" width="1" height="9"/><rect x="248" y="8" width="2" height="1"/><rect x="245" y="14" width="2" height="1"/></g>
<g fill="#505050" shape-rendering="crispEdges"><rect x="269" y="7" width="1" height="13"/><rect x="267" y="17" width="14" height="1"/></g>
<polygon points="267.9,8.4 269.5,5.8 271.1,8.4" fill="#505050"/><polygon points="279.6,15.9 282.2,17.5 279.6,19.1" fill="#505050"/>
<rect x="275" y="4" width="1" height="12" fill="#008000" shape-rendering="crispEdges"/><rect x="273.5" y="6.5" width="4" height="7" fill="url(#cndl)" stroke="#008800" stroke-width="1"/>
<g fill="#505050" shape-rendering="crispEdges"><rect x="297" y="7" width="1" height="13"/><rect x="295" y="17" width="14" height="1"/></g>
<polygon points="295.9,8.4 297.5,5.8 299.1,8.4" fill="#505050"/><polygon points="307.6,15.9 310.2,17.5 307.6,19.1" fill="#505050"/>
<path d="M296,14.6 C298.5,13.4 300,9.2 302.2,9.2 C304.2,9.2 305.6,12.6 308,13.2" fill="none" stroke="#1a8a1a" stroke-width="1.2"/>
<line x1="337" y1="14" x2="342.2" y2="18.6" stroke="#9a6c00" stroke-width="3.4" stroke-linecap="round"/><line x1="337.2" y1="14.2" x2="342" y2="18.4" stroke="#e8c83c" stroke-width="1.9" stroke-linecap="round"/>
<circle cx="333" cy="9.9" r="5.5" fill="url(#lens)" stroke="#3a7fd4" stroke-width="1.3"/>
<rect x="330" y="9.2" width="6" height="1.6" fill="#4c8cb4"/>
<rect x="332.2" y="7" width="1.6" height="6" fill="#4c8cb4"/>
<line x1="365.2" y1="14" x2="370.4" y2="18.6" stroke="#9a6c00" stroke-width="3.4" stroke-linecap="round"/><line x1="365.4" y1="14.2" x2="370.2" y2="18.4" stroke="#e8c83c" stroke-width="1.9" stroke-linecap="round"/>
<circle cx="361.2" cy="9.9" r="5.5" fill="url(#lens)" stroke="#3a7fd4" stroke-width="1.3"/>
<rect x="358.2" y="9.2" width="6" height="1.6" fill="#4c8cb4"/>
<rect x="383" y="4" width="7.8" height="7.8" fill="url(#grn)"/><rect x="384.4" y="7.2" width="5.2" height="3.4" fill="#fff"/><rect x="385.2" y="8.4" width="3.6" height="1" fill="url(#grn)" opacity="0.55"/><rect x="384" y="5" width="1" height="1" fill="#fff"/>
<rect x="391.2" y="4" width="7.8" height="7.8" fill="url(#blq)"/><rect x="392.59999999999997" y="7.2" width="5.2" height="3.4" fill="#fff"/><rect x="393.4" y="8.4" width="3.6" height="1" fill="url(#blq)" opacity="0.55"/><rect x="392.2" y="5" width="1" height="1" fill="#fff"/>
<rect x="383" y="12" width="7.8" height="7.8" fill="url(#blq)"/><rect x="384.4" y="15.2" width="5.2" height="3.4" fill="#fff"/><rect x="385.2" y="16.4" width="3.6" height="1" fill="url(#blq)" opacity="0.55"/><rect x="384" y="13" width="1" height="1" fill="#fff"/>
<rect x="391.2" y="12" width="7.8" height="7.8" fill="url(#grn)"/><rect x="392.59999999999997" y="15.2" width="5.2" height="3.4" fill="#fff"/><rect x="393.4" y="16.4" width="3.6" height="1" fill="url(#grn)" opacity="0.55"/><rect x="392.2" y="13" width="1" height="1" fill="#fff"/>
<g fill="#505050" shape-rendering="crispEdges"><rect x="421" y="7" width="1" height="13"/><rect x="419" y="17" width="14" height="1"/></g>
<polygon points="419.9,8.4 421.5,5.8 423.1,8.4" fill="#505050"/><polygon points="431.6,15.9 434.2,17.5 431.6,19.1" fill="#505050"/>
<polygon points="426.3,8.6 426.3,14.4 429.8,11.5" fill="#7ae47a" stroke="#0a9a0a" stroke-width="0.9"/>
<g fill="#505050" shape-rendering="crispEdges"><rect x="449" y="7" width="1" height="13"/><rect x="447" y="17" width="14" height="1"/></g>
<polygon points="447.9,8.4 449.5,5.8 451.1,8.4" fill="#505050"/><polygon points="459.6,15.9 462.2,17.5 459.6,19.1" fill="#505050"/>
<rect x="455" y="6" width="1" height="10" fill="#1c6ca0" shape-rendering="crispEdges"/><polygon points="456.4,11.5 458.8,9.7 458.8,13.3" fill="#d84000"/><rect x="458" y="11" width="3.6" height="1" fill="#d84000"/>
<path d="M480.5,4.6 H488.6 L491.6,7.6 V17.4 H480.5 Z" fill="#fdfdfd" stroke="#8c8c8c" stroke-width="0.9"/><path d="M488.6,4.6 V7.6 H491.6" fill="#e4e4e4" stroke="#8c8c8c" stroke-width="0.7"/>
<path d="M485.6,7.2 C484,7 483.6,8 483.6,9.4 V14.6 M482.4,10.4 H485" fill="none" stroke="#7a6a3a" stroke-width="0.9"/>
<path d="M488.6,10.6 H491.8 V14.4 H495.6 V17.6 H491.8 V21.3 H488.6 V17.6 H484.8 V14.4 H488.6 Z" fill="url(#gp)" stroke="#0a8a0a" stroke-width="0.9"/>
<polygon points="501.7,11 507.7,11 504.7,14.2" fill="#000"/>
<circle cx="526" cy="11.8" r="7.8" fill="url(#clk)"/><circle cx="526" cy="11.8" r="5" fill="#fff"/><circle cx="526" cy="11.8" r="5" fill="none" stroke="#b8c8dc" stroke-width="0.5"/>
<path d="M525.6,8 V12 H528.6" fill="none" stroke="#202020" stroke-width="1.2"/><g fill="#8090a8"><rect x="525.6" y="7" width="0.8" height="0.8"/><rect x="525.6" y="15.8" width="0.8" height="0.8"/><rect x="521.4" y="11.4" width="0.8" height="0.8"/><rect x="530" y="11.4" width="0.8" height="0.8"/></g>
<polygon points="540.6,11 546.6,11 543.6,14.2" fill="#000"/>
<rect x="557.4" y="5.2" width="15.4" height="13.6" fill="#fff" stroke="#3470c4" stroke-width="1"/><rect x="557.4" y="5.2" width="15.4" height="2.2" fill="#4a90e0" stroke="#3470c4" stroke-width="0.6"/><rect x="557.9" y="12.6" width="14.4" height="1" fill="#3470c4"/>
<path d="M559,11.2 L561,11.2 L562.6,9.6 L564.6,10.6 L566.6,9.2 L568.4,10.2 L571,9" fill="none" stroke="#a02000" stroke-width="1.2"/><path d="M559.4,16.8 L561.4,15.6 L563,16.8 L565,16.4 L567.6,14.4 L569,15.2 L571,17" fill="none" stroke="#0c8a0c" stroke-width="1.2"/>
<polygon points="579.5,11 585.5,11 582.5,14.2" fill="#000"/>
<polygon points="609.1,4.9 609.1,15.9 612,13.5 614.2,19.1 616,18 613.8,12.8 617,12.3" fill="#505050"/>
<g fill="#505050" shape-rendering="crispEdges"><rect x="634" y="12" width="6" height="1"/><rect x="643" y="12" width="6" height="1"/><rect x="641" y="5" width="1" height="6"/><rect x="641" y="14" width="1" height="6"/><rect x="641" y="12" width="1" height="1" opacity="0.5"/></g>
<g fill="#505050" shape-rendering="crispEdges"><rect x="675" y="6" width="1" height="13"/><rect x="698" y="12" width="12" height="1"/></g>
<line x1="725.8" y1="19.1" x2="738.1" y2="6.6" stroke="#505050" stroke-width="1.1"/>
<g stroke="#505050" stroke-width="1" fill="none"><line x1="751.6" y1="13.8" x2="759.8" y2="6.2"/><line x1="753" y1="17.8" x2="765.8" y2="6.4"/><line x1="757.2" y1="18.8" x2="766" y2="10.6"/><path d="M754.4,12.2 L755,16.4 M757,10 L757.8,14.6 M759.8,8 L760.4,12.8 M762.6,5.2 L763.4,10.4" stroke-width="0.9"/></g>
<path d="M763.4,16.4 H766.8 M763.4,18.4 H766.2 M763.4,20.4 H766.8 M763.8,16 V20.8" stroke="#303030" stroke-width="1" fill="none"/>
<line x1="781" y1="5.5" x2="794" y2="5.5" stroke="#505050" stroke-width="1" stroke-dasharray="1,1" shape-rendering="crispEdges"/>
<line x1="781" y1="8.5" x2="794" y2="8.5" stroke="#505050" stroke-width="1" stroke-dasharray="1,1" shape-rendering="crispEdges"/>
<line x1="781" y1="12.5" x2="794" y2="12.5" stroke="#505050" stroke-width="1" stroke-dasharray="1,1" shape-rendering="crispEdges"/>
<line x1="781" y1="16.5" x2="789" y2="16.5" stroke="#505050" stroke-width="1" stroke-dasharray="1,1" shape-rendering="crispEdges"/>
<path d="M791.4,16.4 H795 M791.4,18.4 H794.4 M791.8,16 V20.8" stroke="#303030" stroke-width="1" fill="none"/>
<path d="M812,16.8 L815.2,8 H816.2 L819.4,16.8 M813.2,13.8 H818.2" fill="none" stroke="#505050" stroke-width="1.3"/>
<rect x="838.5" y="6.5" width="11" height="12" fill="none" stroke="#505050" stroke-width="1" stroke-dasharray="1,1" shape-rendering="crispEdges"/><rect x="837" y="5" width="2" height="2" fill="#505050"/>
<path d="M840.2,10 H848 M844.1,10 V16.8" fill="none" stroke="#505050" stroke-width="1.5"/>
<polygon points="865,9.6 868.4,5.8 871.8,9.6 870,9.6 870,10.8 866.8,10.8 866.8,9.6" fill="#505050"/><polygon points="871.8,15 875.3,19 878.8,15 877,15 877,13.8 873.6,13.8 873.6,15" fill="#505050"/><path d="M867.2,13.2 L869.4,15.4 L874.6,10" fill="none" stroke="#505050" stroke-width="1.2"/>
<polygon points="885.6,11 891.6,11 888.6,14.2" fill="#000"/>
<line x1="1625.2" y1="12.8" x2="1621" y2="16.8" stroke="#2a58d0" stroke-width="2.6" stroke-linecap="round"/><circle cx="1628.6" cy="9.5" r="3.6" fill="#fdfdff" stroke="#2a58d0" stroke-width="1.3"/>
<path d="M1661.4,4.4 C1665.2,4.4 1667.9,6.4 1667.9,8.9 C1667.9,11 1666,12.6 1664.6,13.1 L1665,15.6 L1662.4,13.4 C1658,13.8 1654.9,11.6 1654.9,8.9 C1654.9,6.4 1657.6,4.4 1661.4,4.4 Z" fill="url(#bub)" stroke="#8c8c8c" stroke-width="0.8"/>
<path d="M1652.5,10 C1655.3,10 1657.3,11.7 1657.3,13.8 C1657.3,15.9 1655.3,17.6 1652.5,17.6 L1650.2,17.4 L1649.6,19.2 L1649,17 C1648,16.2 1647.6,15 1647.6,13.8 C1647.6,11.7 1649.7,10 1652.5,10 Z" fill="url(#bub)" stroke="#8c8c8c" stroke-width="0.8"/>
</svg>
<div class="t" style="left:1631.5px;top:26.50px;font-size:9.8px;line-height:14px;color:#000;letter-spacing:-0.25px;font-weight:normal;">137.885</div>
<div class="t" style="left:1631.5px;top:59.50px;font-size:9.8px;line-height:14px;color:#000;letter-spacing:-0.25px;font-weight:normal;">137.705</div>
<div class="t" style="left:1631.5px;top:92.50px;font-size:9.8px;line-height:14px;color:#000;letter-spacing:-0.25px;font-weight:normal;">137.525</div>
<div class="t" style="left:1631.5px;top:125.50px;font-size:9.8px;line-height:14px;color:#000;letter-spacing:-0.25px;font-weight:normal;">137.345</div>
<div class="t" style="left:1631.5px;top:158.50px;font-size:9.8px;line-height:14px;color:#000;letter-spacing:-0.25px;font-weight:normal;">137.165</div>
<div class="t" style="left:1631.5px;top:191.50px;font-size:9.8px;line-height:14px;color:#000;letter-spacing:-0.25px;font-weight:normal;">136.985</div>
<div class="t" style="left:1631.5px;top:224.50px;font-size:9.8px;line-height:14px;color:#000;letter-spacing:-0.25px;font-weight:normal;">136.805</div>
<div class="t" style="left:1631.5px;top:257.50px;font-size:9.8px;line-height:14px;color:#000;letter-spacing:-0.25px;font-weight:normal;">136.625</div>
<div class="t" style="left:1631.5px;top:290.50px;font-size:9.8px;line-height:14px;color:#000;letter-spacing:-0.25px;font-weight:normal;">136.445</div>
<div class="t" style="left:1631.5px;top:323.50px;font-size:9.8px;line-height:14px;color:#000;letter-spacing:-0.25px;font-weight:normal;">136.265</div>
<div class="t" style="left:1631.5px;top:356.50px;font-size:9.8px;line-height:14px;color:#000;letter-spacing:-0.25px;font-weight:normal;">136.085</div>
<div class="t" style="left:1631.5px;top:389.50px;font-size:9.8px;line-height:14px;color:#000;letter-spacing:-0.25px;font-weight:normal;">135.905</div>
<div class="t" style="left:1631.5px;top:422.50px;font-size:9.8px;line-height:14px;color:#000;letter-spacing:-0.25px;font-weight:normal;">135.725</div>
<div class="t" style="left:1631.5px;top:455.50px;font-size:9.8px;line-height:14px;color:#000;letter-spacing:-0.25px;font-weight:normal;">135.545</div>
<div class="t" style="left:1631.5px;top:488.50px;font-size:9.8px;line-height:14px;color:#000;letter-spacing:-0.25px;font-weight:normal;">135.365</div>
<div class="t" style="left:1631.5px;top:521.50px;font-size:9.8px;line-height:14px;color:#000;letter-spacing:-0.25px;font-weight:normal;">135.185</div>
<div class="t" style="left:1631.5px;top:554.50px;font-size:9.8px;line-height:14px;color:#000;letter-spacing:-0.25px;font-weight:normal;">135.005</div>
<div class="t" style="left:1630px;top:566.50px;font-size:9.8px;line-height:14px;color:#000;letter-spacing:-0.25px;font-weight:normal;">0.1976</div>
<div class="t" style="left:1630px;top:631.30px;font-size:9.8px;line-height:14px;color:#000;letter-spacing:-0.25px;font-weight:normal;">0.00</div>
<div class="t" style="left:1630px;top:754.00px;font-size:9.8px;line-height:14px;color:#000;letter-spacing:-0.25px;font-weight:normal;">-0.3605</div>
<div class="t" style="left:1630px;top:769.50px;font-size:9.8px;line-height:14px;color:#000;letter-spacing:-0.25px;font-weight:normal;">100</div>
<div class="t" style="left:1630px;top:795.60px;font-size:9.8px;line-height:14px;color:#000;letter-spacing:-0.25px;font-weight:normal;">80</div>
<div class="t" style="left:1630px;top:842.50px;font-size:9.8px;line-height:14px;color:#000;letter-spacing:-0.25px;font-weight:normal;">50</div>
<div class="t" style="left:1630px;top:898.50px;font-size:9.8px;line-height:14px;color:#000;letter-spacing:-0.25px;font-weight:normal;">15</div>
<div class="t" style="left:1630px;top:915.70px;font-size:9.8px;line-height:14px;color:#000;letter-spacing:-0.25px;font-weight:normal;">0</div>
<div class="t" style="left:-3.5px;top:931.50px;font-size:9.8px;line-height:14px;color:#000;letter-spacing:-0.2px;font-weight:normal;">21 Jun 2019</div>
<div class="t" style="left:60.5px;top:931.50px;font-size:9.8px;line-height:14px;color:#000;letter-spacing:-0.2px;font-weight:normal;">23 Jun 23:00</div>
<div class="t" style="left:124.5px;top:931.50px;font-size:9.8px;line-height:14px;color:#000;letter-spacing:-0.2px;font-weight:normal;">24 Jun 12:00</div>
<div class="t" style="left:188.5px;top:931.50px;font-size:9.8px;line-height:14px;color:#000;letter-spacing:-0.2px;font-weight:normal;">25 Jun 04:00</div>
<div class="t" style="left:252.5px;top:931.50px;font-size:9.8px;line-height:14px;color:#000;letter-spacing:-0.2px;font-weight:normal;">25 Jun 20:00</div>
<div class="t" style="left:316.5px;top:931.50px;font-size:9.8px;line-height:14px;color:#000;letter-spacing:-0.2px;font-weight:normal;">26 Jun 12:00</div>
<div class="t" style="left:380.5px;top:931.50px;font-size:9.8px;line-height:14px;color:#000;letter-spacing:-0.2px;font-weight:normal;">27 Jun 04:00</div>
<div class="t" style="left:444.5px;top:931.50px;font-size:9.8px;line-height:14px;color:#000;letter-spacing:-0.2px;font-weight:normal;">27 Jun 20:00</div>
<div class="t" style="left:508.5px;top:931.50px;font-size:9.8px;line-height:14px;color:#000;letter-spacing:-0.2px;font-weight:normal;">28 Jun 12:00</div>
<div class="t" style="left:572.5px;top:931.50px;font-size:9.8px;line-height:14px;color:#000;letter-spacing:-0.2px;font-weight:normal;">1 Jul 04:00</div>
<div class="t" style="left:636.5px;top:931.50px;font-size:9.8px;line-height:14px;color:#000;letter-spacing:-0.2px;font-weight:normal;">1 Jul 20:00</div>
<div class="t" style="left:700.5px;top:931.50px;font-size:9.8px;line-height:14px;color:#000;letter-spacing:-0.2px;font-weight:normal;">2 Jul 12:00</div>
<div class="t" style="left:764.5px;top:931.50px;font-size:9.8px;line-height:14px;color:#000;letter-spacing:-0.2px;font-weight:normal;">3 Jul 04:00</div>
<div class="t" style="left:828.5px;top:931.50px;font-size:9.8px;line-height:14px;color:#000;letter-spacing:-0.2px;font-weight:normal;">3 Jul 20:00</div>
<div class="t" style="left:892.5px;top:931.50px;font-size:9.8px;line-height:14px;color:#000;letter-spacing:-0.2px;font-weight:normal;">4 Jul 12:00</div>
<div class="t" style="left:956.5px;top:931.50px;font-size:9.8px;line-height:14px;color:#000;letter-spacing:-0.2px;font-weight:normal;">5 Jul 04:00</div>
<div class="t" style="left:1020.5px;top:931.50px;font-size:9.8px;line-height:14px;color:#000;letter-spacing:-0.2px;font-weight:normal;">7 Jul 23:00</div>
<div class="t" style="left:1084.5px;top:931.50px;font-size:9.8px;line-height:14px;color:#000;letter-spacing:-0.2px;font-weight:normal;">8 Jul 12:00</div>
<div class="t" style="left:1148.5px;top:931.50px;font-size:9.8px;line-height:14px;color:#000;letter-spacing:-0.2px;font-weight:normal;">9 Jul 04:00</div>
<div class="t" style="left:1212.5px;top:931.50px;font-size:9.8px;line-height:14px;color:#000;letter-spacing:-0.2px;font-weight:normal;">9 Jul 20:00</div>
<div class="t" style="left:1276.5px;top:931.50px;font-size:9.8px;line-height:14px;color:#000;letter-spacing:-0.2px;font-weight:normal;">10 Jul 12:00</div>
<div class="t" style="left:1340.5px;top:931.50px;font-size:9.8px;line-height:14px;color:#000;letter-spacing:-0.2px;font-weight:normal;">11 Jul 04:00</div>
<div class="t" style="left:1404.5px;top:931.50px;font-size:9.8px;line-height:14px;color:#000;letter-spacing:-0.2px;font-weight:normal;">11 Jul 20:00</div>
<div class="t" style="left:912.4px;top:7.10px;font-size:9.8px;line-height:14px;color:#404040;letter-spacing:-0.35px;font-weight:normal;-webkit-text-stroke:0">M1</div>
<div class="t" style="left:940.5px;top:7.10px;font-size:9.8px;line-height:14px;color:#404040;letter-spacing:-0.35px;font-weight:normal;-webkit-text-stroke:0">M5</div>
<div class="t" style="left:966.5px;top:7.10px;font-size:9.8px;line-height:14px;color:#404040;letter-spacing:-0.35px;font-weight:normal;-webkit-text-stroke:0">M15</div>
<div class="t" style="left:994.4px;top:7.10px;font-size:9.8px;line-height:14px;color:#404040;letter-spacing:-0.35px;font-weight:normal;-webkit-text-stroke:0">M30</div>
<div class="t" style="left:1025.4px;top:7.10px;font-size:9.8px;line-height:14px;color:#404040;letter-spacing:-0.35px;font-weight:normal;-webkit-text-stroke:0">H1</div>
<div class="t" style="left:1052.5px;top:7.10px;font-size:9.8px;line-height:14px;color:#404040;letter-spacing:-0.35px;font-weight:normal;-webkit-text-stroke:0">H4</div>
<div class="t" style="left:1081.4px;top:7.10px;font-size:9.8px;line-height:14px;color:#404040;letter-spacing:-0.35px;font-weight:normal;-webkit-text-stroke:0">D1</div>
<div class="t" style="left:1108.7px;top:7.10px;font-size:9.8px;line-height:14px;color:#404040;letter-spacing:-0.35px;font-weight:normal;-webkit-text-stroke:0">W1</div>
<div class="t" style="left:1135.3px;top:7.10px;font-size:9.8px;line-height:14px;color:#404040;letter-spacing:-0.35px;font-weight:normal;-webkit-text-stroke:0">MN</div>
<div class="t" style="left:2.4px;top:568.50px;font-size:9.8px;line-height:14px;color:#000;letter-spacing:-0.24px;font-weight:normal;">MACD(12,26,9) -0.0330 -0.0805</div>
<div class="t" style="left:2.4px;top:771.60px;font-size:9.8px;line-height:14px;color:#000;letter-spacing:-0.24px;font-weight:normal;">RSI(14) 52.9019</div>
<div class="t" style="left:13px;top:30.20px;font-size:9.8px;line-height:14px;color:#000;letter-spacing:-0.27px;font-weight:normal;">GBPJPY-,H4&nbsp; 135.833 135.908 135.794 135.828</div>
<div class="pb" style="top:366px;background:#ff4500">136.031</div><div class="pb" style="top:382px;background:#ff0000">135.940</div><div class="pb" style="top:404px;background:#000000">135.828</div><div class="pb" style="top:420px;background:#32cd32">135.737</div><div class="pb" style="top:439px;background:#0000ff">135.634</div><div class="pb" style="top:457px;background:#0000ff">135.534</div>
<div class="t" style="left:1467px;top:414.6px;height:25px;line-height:25px;font-size:22.8px;color:#ff0000;transform:scaleX(0.868);transform-origin:0 0;letter-spacing:0">135.737</div>
<div id="tp" style="position:absolute;left:0;top:0;width:230px;height:120px;font-family:'Liberation Sans',sans-serif">
<div class="bl" style="left:1px;top:48px;width:52px;height:24px;background-position:0 0"></div>
<div class="bl" style="left:1px;top:72px;width:109px;height:40px;background-position:0 -24px"></div>
<div class="bl" style="left:168px;top:48px;width:52px;height:24px;background-position:0 0"></div>
<div class="bl" style="left:112px;top:72px;width:108px;height:40px;background-position:0 -24px"></div>
<div class="be" style="left:1px;top:48px;width:52px;height:1px"></div><div class="be" style="left:1px;top:48px;width:1px;height:64px"></div>
<div class="be" style="left:168px;top:48px;width:52px;height:1px"></div><div class="be" style="left:112px;top:72px;width:1px;height:40px"></div><div class="be" style="left:168px;top:48px;width:1px;height:24px"></div>
<div class="be" style="left:53px;top:71px;width:57px;height:1px;opacity:.5"></div><div class="be" style="left:112px;top:71px;width:56px;height:1px;opacity:.5"></div>
<div style="position:absolute;left:5px;top:71px;width:44px;height:1px;background:#1c1cb4"></div><div style="position:absolute;left:5px;top:72px;width:44px;height:1px;background:#7272f4"></div>
<div style="position:absolute;left:172px;top:71px;width:44px;height:1px;background:#1c1cb4"></div><div style="position:absolute;left:172px;top:72px;width:44px;height:1px;background:#7272f4"></div>
<div class="pt" style="left:13.4px;top:52px;font-size:12px;line-height:16px;transform:scaleX(0.87);transform-origin:0 0">SELL</div>
<div class="pt" style="left:181.2px;top:52px;font-size:12px;line-height:16px;transform:scaleX(0.97);transform-origin:0 0">BUY</div>
<div class="pt" style="left:24.6px;top:91.4px;font-size:12px;line-height:16px;font-weight:bold">135</div>
<div class="pt" style="left:48.1px;top:73px;font-size:34px;line-height:40px;letter-spacing:-2px">82</div>
<div class="pt" style="left:88.4px;top:75.4px;font-size:12px;line-height:16px;font-weight:bold">8</div>
<div class="pt" style="left:134.2px;top:91.4px;font-size:12px;line-height:16px;font-weight:bold">135</div>
<div class="pt" style="left:158.7px;top:73px;font-size:34px;line-height:40px;letter-spacing:-2px">93</div>
<div class="pt" style="left:199.6px;top:75.4px;font-size:12px;line-height:16px;font-weight:bold">5</div>
<div style="position:absolute;left:55px;top:48px;width:110px;height:20px;border:1px solid #adadad;background:#fff"></div>
<div style="position:absolute;left:56px;top:49px;width:20px;height:20px;background:#e9e9e9;border-right:1px solid #b8b8b8"></div>
<div style="position:absolute;left:144px;top:49px;width:21px;height:20px;background:#e9e9e9;border-left:1px solid #b8b8b8"></div>
<svg width="230" height="120" style="position:absolute;left:0;top:0"><polygon points="62.5,57 68.5,57 65.5,60.3" fill="#000"/><polygon points="151.5,60.3 157.5,60.3 154.5,57" fill="#000"/></svg>
<div style="position:absolute;left:100px;top:50.3px;width:41.3px;text-align:right;font-size:12px;line-height:17px;color:#000">1.00</div>
</div>
<style>
.bl{position:absolute;background-image:linear-gradient(#5656fb 0px,#3a3ae4 24px,#2424cd 42px,#0303ab 64px);background-size:200px 64px;background-repeat:no-repeat}
.be{position:absolute;background:#0000bc}
.pt{position:absolute;color:#fff;white-space:nowrap}
</style>

</body></html>
